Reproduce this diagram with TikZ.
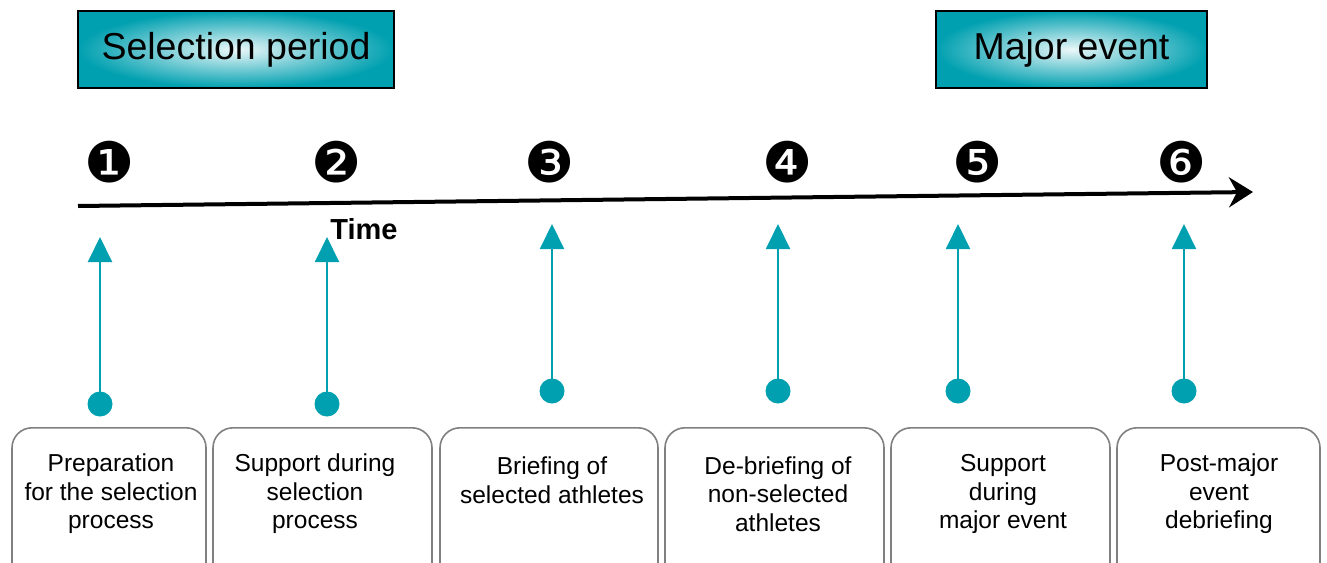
\documentclass[tikz,border=0pt]{standalone}
\usepackage{fontspec}
\setmainfont{Liberation Sans}
\newfontfamily\dejavu{DejaVu Sans}
\usetikzlibrary{arrows.meta,shadings}
\definecolor{teal1}{RGB}{0,160,176}
\definecolor{boxgray}{RGB}{128,128,128}
\tikzset{
  header/.style={draw=black,line width=1.5pt,inner color=teal1!8,outer color=teal1,minimum height=77pt,font=\fontsize{37.5}{40}\selectfont,anchor=center},
  stagebox/.style={draw=boxgray,line width=1.6pt,rounded corners=20pt,minimum height=170pt,anchor=north},
  stagetext/.style={align=center,font=\fontsize{24.5}{28.5}\selectfont},
  num/.style={font=\dejavu\fontsize{56}{56}\selectfont,inner sep=0pt},
  dot/.style={circle,fill=teal1,minimum size=25pt,inner sep=0pt},
  tealarrow/.style={draw=teal1,line width=2pt,-{Triangle[width=24pt,length=25pt]}},
}
\begin{document}
\begin{tikzpicture}[x=1pt,y=-1pt]
\useasboundingbox (0,0) rectangle (1327,562);
\clip (0,0) rectangle (1327,562);
% headers
\node[header,minimum width=316pt] (sel) at (236,49.5) {Selection period};
\node[header,minimum width=271pt] (maj) at (1071.5,49.5) {Major event};
% numbers
\node[num] (n1) at (110,162) {❶};
\node[num] (n2) at (337,162) {❷};
\node[num] (n3) at (550,162) {❸};
\node[num] (n4) at (788,162) {❹};
\node[num] (n5) at (978,162) {❺};
\node[num] (n6) at (1182,162) {❻};
% time axis
\coordinate (tstart) at (78,206);
\coordinate (tend) at (1253,192);
\draw[line width=4pt,-{Stealth[length=24pt,width=30pt,inset=8pt]}] (tstart) -- (tend);
\node[font=\bfseries\fontsize{29}{32}\selectfont] (time) at (364,229) {Time};
% boxes
\node[stagebox,minimum width=194pt] (b1) at (109,427) {};
\node[stagebox,minimum width=219pt] (b2) at (322.5,427) {};
\node[stagebox,minimum width=218pt] (b3) at (549,427) {};
\node[stagebox,minimum width=219pt] (b4) at (774.5,427) {};
\node[stagebox,minimum width=219pt] (b5) at (1000.5,427) {};
\node[stagebox,minimum width=203pt] (b6) at (1218.5,427) {};
\node[stagetext] (t1) at (111,494) {Preparation\\for the selection\\process};
\node[stagetext] (t2) at (315,494) {Support during\\selection\\process};
\node[stagetext] (t3) at (552,480) {Briefing of\\selected athletes};
\node[stagetext] (t4) at (778,494) {De-briefing of\\non-selected\\athletes};
\node[stagetext] (t5) at (1003,494) {Support\\during\\major event};
\node[stagetext] (t6) at (1219,494) {Post-major\\event\\debriefing};
% dots and arrows
\node[dot] (d1) at (100,404) {};
\node[dot] (d2) at (327,404) {};
\node[dot] (d3) at (552,391) {};
\node[dot] (d4) at (778,391) {};
\node[dot] (d5) at (958,391) {};
\node[dot] (d6) at (1184,391) {};
\coordinate (a1) at (100,237);
\coordinate (a2) at (327,237);
\coordinate (a3) at (552,224);
\coordinate (a4) at (778,224);
\coordinate (a5) at (958,224);
\coordinate (a6) at (1184,224);
\foreach \i in {1,...,6}{\draw[tealarrow] (d\i.center) -- (a\i);}
\end{tikzpicture}
\end{document}
